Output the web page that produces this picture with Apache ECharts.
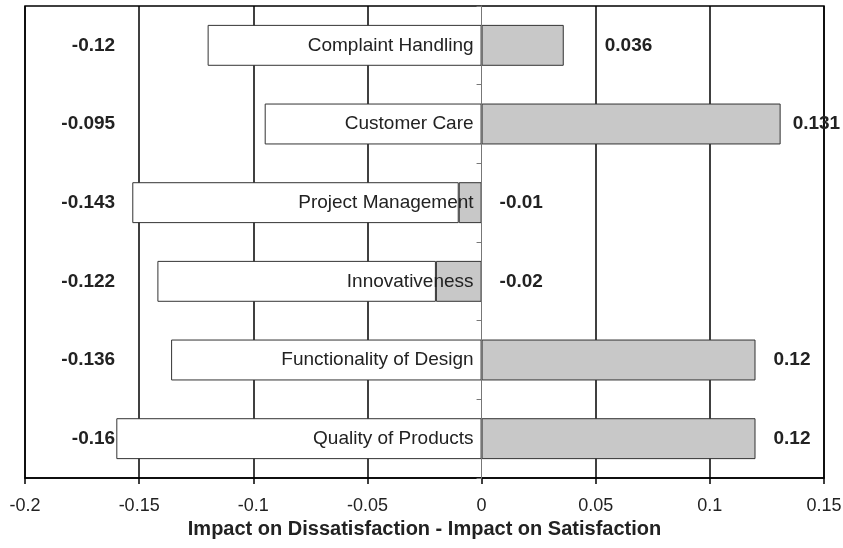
<!DOCTYPE html>
<html>
<head>
<meta charset="utf-8">
<script src="https://cdn.jsdelivr.net/npm/echarts@6/dist/echarts.min.js"></script>
<style>
  html, body { margin: 0; padding: 0; background: #fff; }
  #chart { width: 843px; height: 548px; }
</style>
</head>
<body>
<div id="chart"></div>
<script>
  // categories top to bottom
  const categories = ['Complaint Handling', 'Customer Care', 'Project Management',
                      'Innovativeness', 'Functionality of Design', 'Quality of Products']
  const satisfaction = [0.036, 0.131, -0.01, -0.02, 0.12, 0.12]
  const dissatisfaction = [-0.12, -0.095, -0.143, -0.122, -0.136, -0.16]
  const xTicks = [-0.2, -0.15, -0.1, -0.05, 0, 0.05, 0.1, 0.15]
  const leftLabelX = -0.1605   // where the dissatisfaction numbers sit

  const font = 'Liberation Sans, Arial, sans-serif'
  const chart = echarts.init(document.getElementById('chart'))

  // grid line at zero is hidden (axis line drawn there instead)
  const splitColors = xTicks.map(t => t === 0 ? 'rgba(0,0,0,0)' : '#000')

  let option = {
    animation: false,
    grid: {
      left: 25, right: 19, top: 6, bottom: 70,
      outerBoundsMode: 'none', containLabel: false,
      show: true, borderColor: '#000', borderWidth: 1.5
    },
    xAxis: {
      type: 'value',
      min: xTicks[0], max: xTicks[xTicks.length - 1], interval: 0.05,
      name: 'Impact on Dissatisfaction - Impact on Satisfaction',
      nameLocation: 'middle', nameGap: 37,
      nameTextStyle: { fontFamily: font, fontSize: 20, fontWeight: 'bold', color: '#222' },
      axisLine: { show: true, lineStyle: { color: '#000', width: 1.5 } },
      axisTick: { show: true, length: 6, lineStyle: { color: '#000', width: 1.5 } },
      axisLabel: {
        fontFamily: font, fontSize: 18, color: '#222', margin: 19,
        formatter: v => String(Math.round(v * 100) / 100)
      },
      splitLine: { show: true, lineStyle: { color: splitColors, width: 1.5 } }
    },
    yAxis: {
      type: 'category',
      data: categories,
      inverse: true,
      z: 10,
      axisLine: { show: true, onZero: true, lineStyle: { color: '#777', width: 1 } },
      axisTick: { show: true, length: 5, lineStyle: { color: '#777' } },
      axisLabel: { show: false },
      splitLine: { show: false }
    },
    series: [
      {
        name: 'Satisfaction',
        type: 'bar',
        stack: 'impact',
        barCategoryGap: '48%',
        itemStyle: { color: '#c8c8c8', borderColor: '#333', borderWidth: 1 },
        label: {
          show: true, position: 'right', distance: 18,
          fontFamily: font, fontSize: 19, fontWeight: 'bold', color: '#222',
          formatter: p => String(satisfaction[p.dataIndex])
        },
        data: satisfaction.map((v, i) => {
          if (i === 0) return { value: v, label: { distance: 41 } }
          if (i === 1) return { value: v, label: { distance: 12 } }
          return v
        })
      },
      {
        name: 'Dissatisfaction',
        type: 'bar',
        stack: 'impact',
        itemStyle: { color: '#fff', borderColor: '#333', borderWidth: 1 },
        data: dissatisfaction
      },
      {
        // dissatisfaction numbers in the left margin
        name: 'valueLabels',
        type: 'scatter',
        symbolSize: 0,
        silent: true,
        z: 5,
        itemStyle: { opacity: 1 },
        label: {
          show: true, position: 'left', distance: 0,
          fontFamily: font, fontSize: 19, fontWeight: 'bold', color: '#222',
          formatter: p => String(dissatisfaction[p.dataIndex])
        },
        data: dissatisfaction.map((v, i) => [leftLabelX, i])
      },
      {
        // category names, right-aligned against the zero line
        name: 'categoryLabels',
        type: 'scatter',
        symbolSize: 0,
        silent: true,
        z: 5,
        itemStyle: { opacity: 1 },
        label: {
          show: true, position: 'left', distance: 8,
          fontFamily: font, fontSize: 19, color: '#222',
          formatter: p => categories[p.dataIndex]
        },
        data: categories.map((c, i) => [0, i])
      }
    ]
  }
  chart.setOption(option)
</script>
</body>
</html>
